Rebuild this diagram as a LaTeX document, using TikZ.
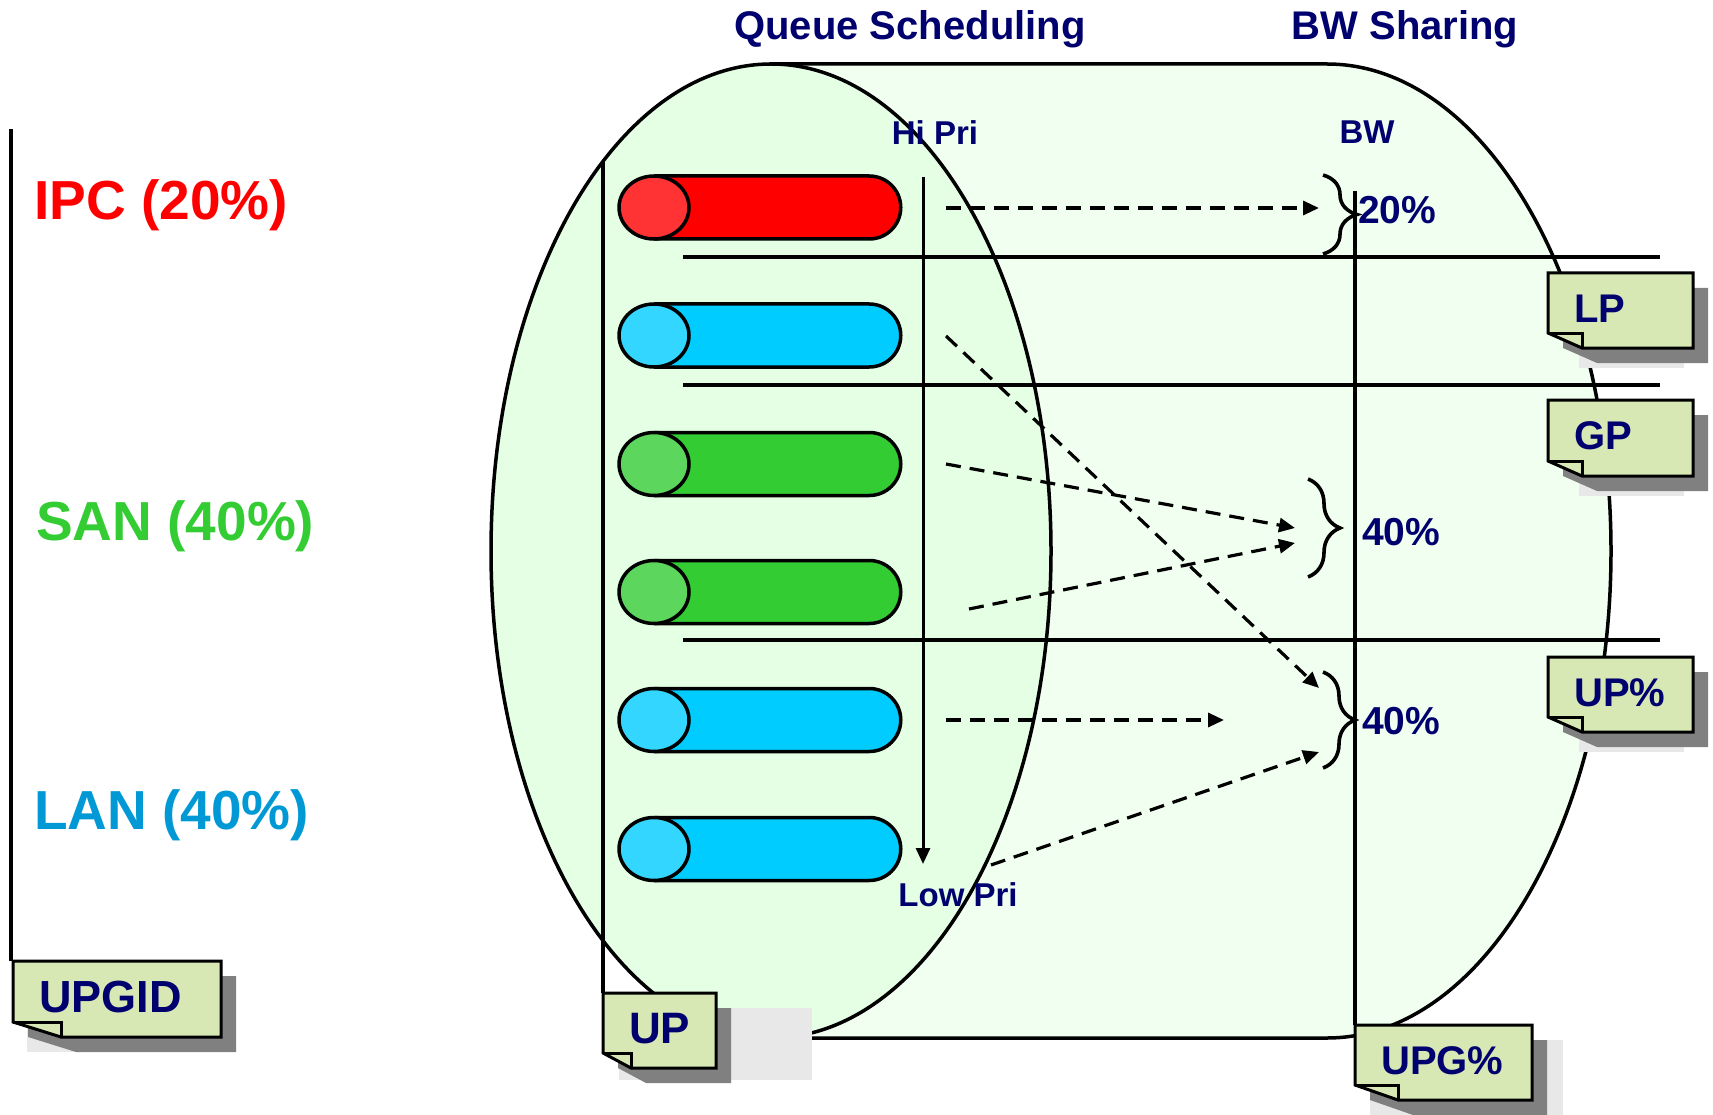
\documentclass[tikz,border=0pt]{standalone}
\usepackage{fontspec}
\setmainfont{Liberation Sans}
\usetikzlibrary{arrows.meta,decorations.pathreplacing,shapes.misc}

\definecolor{navy}{RGB}{0,0,110}
\definecolor{ipcred}{RGB}{255,0,0}
\definecolor{sangreen}{RGB}{51,204,51}
\definecolor{lanblue}{RGB}{0,153,214}
\definecolor{frontfill}{RGB}{229,255,229}
\definecolor{bodyfill}{RGB}{241,255,241}
\definecolor{notefill}{RGB}{216,232,180}
\definecolor{shadowgray}{RGB}{128,128,128}
\definecolor{palegray}{RGB}{232,232,232}
\definecolor{redbody}{RGB}{255,0,0}
\definecolor{redcap}{RGB}{255,51,51}
\definecolor{bluebody}{RGB}{0,204,255}
\definecolor{bluecap}{RGB}{51,214,255}
\definecolor{greenbody}{RGB}{51,204,51}
\definecolor{greencap}{RGB}{92,214,92}

\tikzset{
  outline/.style={line width=3.5pt, black},
  cardline/.style={line width=3pt, black, line join=miter},
  pillbody/.style={draw=black, line width=3.5pt, shape=rounded rectangle,
    rounded rectangle west arc=none, minimum width=245pt, minimum height=63pt,
    inner sep=0pt, anchor=west},
  flow/.style={line width=3.2pt, dash pattern=on 15pt off 9pt,
    -{Triangle[length=16pt,width=14pt]}},
  bracestyle/.style={line width=3.6pt, decorate, decoration={brace, amplitude=#1}},
  navytext/.style={text=navy, font=\bfseries\fontsize{33}{33}\selectfont, inner sep=0pt},
  bigtitle/.style={text=navy, font=\bfseries\fontsize{40}{40}\selectfont, inner sep=0pt},
  pct/.style={text=navy, font=\bfseries\fontsize{39}{39}\selectfont, inner sep=0pt, anchor=west},
  classlabel/.style={font=\bfseries\fontsize{55}{55}\selectfont, inner sep=0pt, anchor=west},
}

% sticky note with folded corner and drop shadow
% #1 x1, #2 y1, #3 x2, #4 y2, #5 fold width, #6 pale backing rectangle,
% #7 node name, #8 text, #9 font size
\newcommand{\notecard}[9]{%
  \fill[palegray] #6;
  \fill[shadowgray] ({#1+15},{#2+15}) -- ({#3+15},{#2+15}) -- ({#3+15},{#4+15})
    -- ({#1+#5+15},{#4+15}) -- ({#1+15},{#4}) -- cycle;
  \draw[cardline, fill=notefill] (#1,#2) -- (#3,#2) -- (#3,#4) -- ({#1+#5},#4)
    -- (#1,{#4-15}) -- cycle;
  \draw[cardline] (#1,{#4-15}) -- ({#1+#5},{#4-15}) -- ({#1+#5},#4);
  \node[text=navy, font=\bfseries\fontsize{#9}{#9}\selectfont, inner sep=0pt, anchor=west]
    (#7) at ({#1+26},{(#2+#4)/2-2}) {#8};
}

% capsule queue: #1 name, #2 centre y, #3 body colour, #4 cap colour
\newcommand{\queuepill}[4]{%
  \node[pillbody, fill=#3] (#1) at (654,#2) {};
  \draw[outline, fill=#4] (654,#2) ellipse [x radius=35, y radius=31.5];
}

\begin{document}
\begin{tikzpicture}[x=1pt,y=-1pt]
\useasboundingbox (0,0) rectangle (1713,1115);
\fill[white] (0,0) rectangle (1713,1115);

% cylinder body and front face
\draw[outline, fill=bodyfill] (771,64) -- (1327,64)
  arc[start angle=-90, end angle=90, x radius=284, y radius=487] -- (771,1038) -- cycle;
\draw[outline, fill=frontfill] (771,551) ellipse [x radius=280, y radius=487];

% titles
\node[bigtitle] (qs) at (910,29) {Queue Scheduling};
\node[bigtitle] (bws) at (1405,29) {BW Sharing};
\node[navytext] (hipri) at (935,133) {Hi Pri};
\node[navytext] (lowpri) at (958,895) {Low Pri};
\node[navytext] (bw) at (1367,132) {BW};

% traffic class labels
\node[classlabel, text=ipcred] (ipc) at (34,205) {IPC (20\%)};
\node[classlabel, text=sangreen] (san) at (36,526) {SAN (40\%)};
\node[classlabel, text=lanblue] (lan) at (34,815) {LAN (40\%)};

% group separators
\coordinate (s1a) at (683,257); \coordinate (s1b) at (1660,257);
\coordinate (s2a) at (683,385); \coordinate (s2b) at (1660,385);
\coordinate (s3a) at (683,640); \coordinate (s3b) at (1660,640);
\draw[outline] (s1a) -- (s1b);
\draw[outline] (s2a) -- (s2b);
\draw[outline] (s3a) -- (s3b);

% queues
\queuepill{q1}{207.5}{redbody}{redcap}
\queuepill{q2}{335.5}{bluebody}{bluecap}
\queuepill{q3}{464}{greenbody}{greencap}
\queuepill{q4}{592}{greenbody}{greencap}
\queuepill{q5}{720}{bluebody}{bluecap}
\queuepill{q6}{849}{bluebody}{bluecap}

% priority axis
\coordinate (pritop) at (923,177);
\coordinate (pribot) at (923,864);
\draw[line width=3pt, -{Triangle[length=16pt,width=14pt]}] (pritop) -- (pribot);

% vertical axes
\coordinate (upgidtop) at (11,129);
\coordinate (uptop) at (603,162);
\coordinate (bwtop) at (1355,191);
\draw[line width=4pt] (upgidtop) -- (11,961);
\draw[line width=3.5pt] (uptop) -- (603,993);
\draw[line width=3.5pt] (bwtop) -- (1355,1025);

% bandwidth shares
\draw[bracestyle=34] (1323,175) -- (1323,254);
\draw[bracestyle=32] (1308,479) -- (1308,577);
\draw[bracestyle=32] (1323,672) -- (1323,768);
\node[pct] (p20) at (1358,210) {20\%};
\node[pct] (p40a) at (1362,532) {40\%};
\node[pct] (p40b) at (1362,721) {40\%};

% flows from queues to shares
\coordinate (f1s) at (946,208);  \coordinate (f1e) at (1319,208);
\coordinate (f2s) at (946,336);  \coordinate (f2e) at (1319,688);
\coordinate (f3s) at (946,464);  \coordinate (f3e) at (1295,528);
\coordinate (f4s) at (969,609);  \coordinate (f4e) at (1295,543);
\coordinate (f5s) at (946,720);  \coordinate (f5e) at (1224,720);
\coordinate (f6s) at (991,865);  \coordinate (f6e) at (1319,752);
\draw[flow] (f1s) -- (f1e);
\draw[flow] (f2s) -- (f2e);
\draw[flow] (f3s) -- (f3e);
\draw[flow] (f4s) -- (f4e);
\draw[flow] (f5s) -- (f5e);
\draw[flow] (f6s) -- (f6e);

% notes
\notecard{13}{961}{221}{1037}{48}{(27,977) rectangle (236,1052)}{upgid}{UPGID}{45}
\notecard{603}{993}{716}{1068}{28}{(619,1008) rectangle (812,1080)}{up}{UP}{44}
\notecard{1355}{1025}{1532}{1100}{43}{(1370,1040) rectangle (1563,1115)}{upg}{UPG\%}{40}
\notecard{1548}{273}{1693}{348}{34}{(1579,300) rectangle (1684,368)}{lp}{LP}{40}
\notecard{1548}{400}{1693}{476}{34}{(1579,430) rectangle (1684,496)}{gp}{GP}{40}
\notecard{1548}{657}{1693}{732}{34}{(1579,687) rectangle (1684,752)}{upp}{UP\%}{40}
\end{tikzpicture}
\end{document}
